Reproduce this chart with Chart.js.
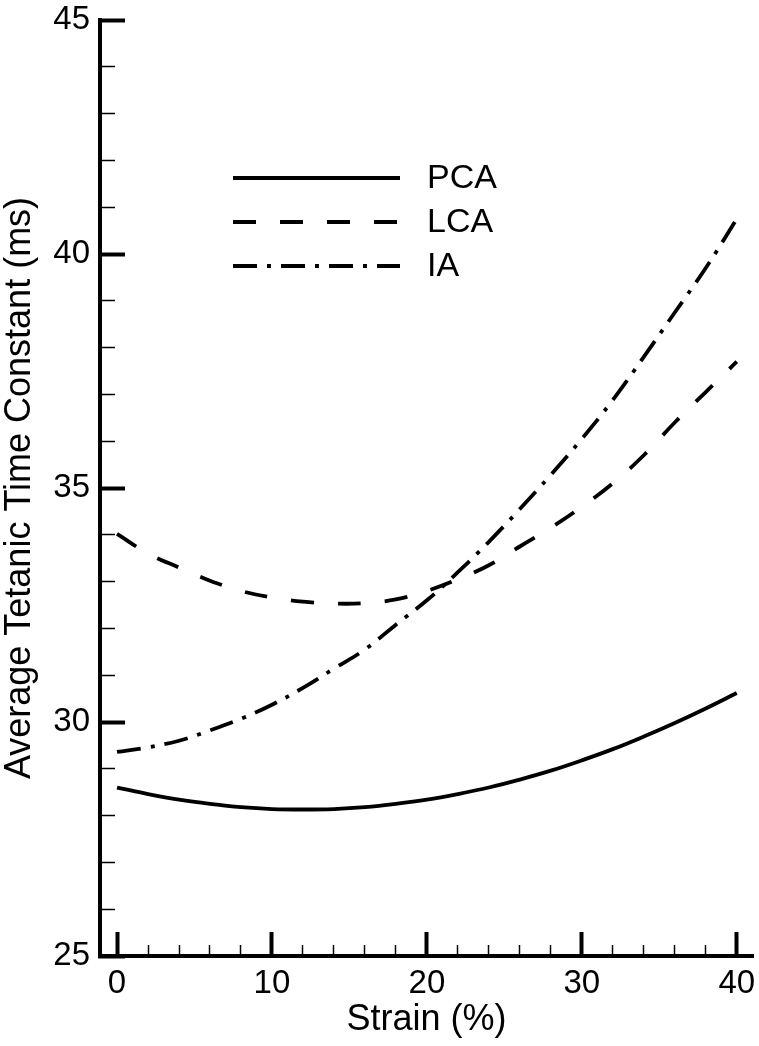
<!DOCTYPE html>
<html>
<head>
<meta charset="utf-8">
<script src="https://cdn.jsdelivr.net/npm/chart.js@4.4.1/dist/chart.umd.min.js"></script>
<style>
  html, body { margin: 0; padding: 0; background: #ffffff; }
  #wrap { width: 759px; height: 1046px; position: relative; }
  canvas { display: block; }
</style>
</head>
<body>
<div id="wrap"><canvas id="c" width="759" height="1046"></canvas></div>
<script>
// ---- data ----
const strain = [0, 2, 4, 6, 8, 10, 12, 14, 16, 18, 20, 22, 24, 26, 28, 30, 32, 34, 36, 38, 40];
const pca = [28.60, 28.46, 28.34, 28.25, 28.18, 28.14, 28.13, 28.14, 28.18, 28.25, 28.34, 28.46, 28.60, 28.77, 28.96, 29.18, 29.42, 29.69, 29.98, 30.29, 30.62];
const lca = [34.02, 33.60, 33.30, 33.02, 32.80, 32.66, 32.57, 32.53, 32.54, 32.62, 32.80, 33.05, 33.35, 33.75, 34.15, 34.60, 35.10, 35.70, 36.40, 37.05, 37.70];
const ia  = [29.36, 29.46, 29.60, 29.82, 30.07, 30.37, 30.73, 31.14, 31.55, 32.08, 32.60, 33.20, 33.85, 34.55, 35.28, 36.05, 36.88, 37.80, 38.75, 39.70, 40.75];
const seriesNames = ['PCA', 'LCA', 'IA'];
const xTickValues = [0, 2, 4, 6, 8, 10, 12, 14, 16, 18, 20, 22, 24, 26, 28, 30, 32, 34, 36, 38, 40];
const xTickLabels = ['0', '10', '20', '30', '40'];
const yTickValues = [25, 26, 27, 28, 29, 30, 31, 32, 33, 34, 35, 36, 37, 38, 39, 40, 41, 42, 43, 44, 45];
const yTickLabels = ['25', '30', '35', '40', '45'];

const FONT = '"Liberation Sans", Arial, Helvetica, sans-serif';
const toPoints = (arr) => strain.map((x, i) => ({ x: x, y: arr[i] }));
const isXMajor = (v) => xTickLabels.includes(String(v));
const isYMajor = (v) => yTickLabels.includes(String(v));

const styles = [
  { dash: [] },
  { dash: [23, 24] },
  { dash: [24, 10, 4, 10] }
];

const datasets = [pca, lca, ia].map((arr, i) => ({
  label: seriesNames[i],
  data: toPoints(arr),
  borderColor: '#000000',
  backgroundColor: '#000000',
  borderWidth: 3.8,
  borderDash: styles[i].dash,
  borderCapStyle: 'butt',
  pointRadius: 0,
  fill: false,
  tension: 0.4
}));

const legendPlugin = {
  id: 'inlineLegend',
  afterDatasetsDraw(chart) {
    const ctx = chart.ctx;
    chart.data.datasets.forEach((ds, i) => {
      const y = 178 + i * 44;
      ctx.save();
      ctx.strokeStyle = ds.borderColor;
      ctx.lineWidth = ds.borderWidth;
      ctx.lineCap = 'butt';
      ctx.setLineDash(ds.borderDash || []);
      ctx.beginPath();
      ctx.moveTo(233, y);
      ctx.lineTo(400, y);
      ctx.stroke();
      ctx.setLineDash([]);
      ctx.fillStyle = '#000000';
      ctx.font = '34px ' + FONT;
      ctx.textBaseline = 'middle';
      ctx.textAlign = 'left';
      ctx.fillText(ds.label, 427, y + 1);
      ctx.restore();
    });
  }
};

new Chart(document.getElementById('c'), {
  type: 'line',
  data: { datasets: datasets },
  plugins: [legendPlugin],
  options: {
    responsive: false,
    animation: false,
    devicePixelRatio: 1,
    layout: { padding: { left: 0, right: 6, top: 20, bottom: 0 } },
    plugins: {
      legend: { display: false },
      tooltip: { enabled: false }
    },
    scales: {
      x: {
        type: 'linear',
        min: -1.1,
        max: 41.05,
        afterBuildTicks: (scale) => { scale.ticks = xTickValues.map(v => ({ value: v })); },
        afterFit: (scale) => {
          scale.height = 1046 - 956;
          scale.paddingLeft = 0;
          scale.paddingRight = 0;
        },
        ticks: {
          autoSkip: false,
          maxRotation: 0,
          padding: 32,
          color: '#000000',
          font: { family: FONT, size: 33 },
          callback: (v) => isXMajor(v) ? String(v) : ''
        },
        grid: {
          drawOnChartArea: false,
          drawTicks: true,
          tickLength: -24,
          tickColor: '#000000',
          tickWidth: (ctx) => (ctx.tick && isXMajor(ctx.tick.value)) ? 4 : 1.5,
          tickBorderDash: (ctx) => (ctx.tick && isXMajor(ctx.tick.value)) ? [] : [13, 100]
        },
        border: { display: true, color: '#000000', width: 4 },
        title: {
          display: true,
          text: 'Strain (%)',
          color: '#000000',
          font: { family: FONT, size: 36, lineHeight: 1 },
          padding: { top: 0, bottom: 8 }
        }
      },
      y: {
        type: 'linear',
        min: 25,
        max: 45,
        afterBuildTicks: (scale) => { scale.ticks = yTickValues.map(v => ({ value: v })); },
        afterFit: (scale) => {
          scale.width = 100;
          scale.paddingTop = 0;
          scale.paddingBottom = 0;
        },
        ticks: {
          autoSkip: false,
          padding: 35,
          color: '#000000',
          font: { family: FONT, size: 33 },
          callback: (v) => isYMajor(v) ? String(v) : ''
        },
        grid: {
          drawOnChartArea: false,
          drawTicks: true,
          tickLength: -25,
          tickColor: '#000000',
          tickWidth: (ctx) => (ctx.tick && isYMajor(ctx.tick.value)) ? 4 : 1.5,
          tickBorderDash: (ctx) => (ctx.tick && isYMajor(ctx.tick.value)) ? [] : [0, 10, 100]
        },
        border: { display: true, color: '#000000', width: 4 },
        title: {
          display: true,
          text: 'Average Tetanic Time Constant (ms)',
          color: '#000000',
          font: { family: FONT, size: 36, lineHeight: 1 },
          padding: { top: 2, bottom: 0 }
        }
      }
    }
  }
});
</script>
</body>
</html>
